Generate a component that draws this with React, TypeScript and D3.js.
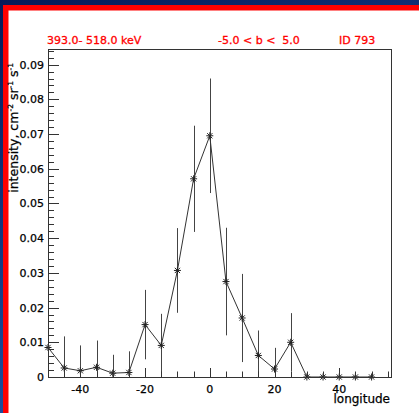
import React from "react";
import * as d3 from "d3";

const longitudes = [-50, -45, -40, -35, -30, -25, -20, -15, -10, -5, 0, 5, 10, 15, 20, 25, 30, 35, 40, 45, 50];
const intensity = [0.0085, 0.0026, 0.0018, 0.0028, 0.0011, 0.0013, 0.0151, 0.0091, 0.0307, 0.0571, 0.0695, 0.0275, 0.0170, 0.0062, 0.0023, 0.0100, 0, 0, 0, 0, 0];
const errors = [0.0095, 0.0091, 0.0073, 0.0077, 0.0053, 0.0061, 0.0100, 0.0091, 0.0122, 0.0153, 0.0165, 0.0155, 0.0127, 0.0072, 0.0061, 0.0084, 0, 0, 0, 0, 0];
const yTicks = [0, 0.01, 0.02, 0.03, 0.04, 0.05, 0.06, 0.07, 0.08, 0.09];
const xTicks = [-40, -20, 0, 20, 40];
const titleLeft = "393.0- 518.0 keV";
const titleMid = "-5.0 < b <\u00a0 5.0";
const titleRight = "ID 793";

const W = 419, H = 413;
const PL = 48, PR = 391, PT = 49, PB = 377;
const FONT = "DejaVu Sans, Liberation Sans, sans-serif";

export default function App() {
  const x = d3.scaleLinear().domain([-50, 56]).range([PL, PR]);
  const y = d3.scaleLinear().domain([0, 0.0945]).range([PB, PT]);
  const yMinor = d3.range(0, 0.0945, 0.002);
  const xMinor = d3.range(-50, 56, 5);
  const line = d3.line<number>().x((_, i) => x(longitudes[i])).y((v) => y(v));
  const s = 3.5;
  return (
    <svg width={W} height={H} style={{ position: "absolute", left: 0, top: 0 }} xmlns="http://www.w3.org/2000/svg">
      <defs>
        <linearGradient id="bg" x1="0" y1="0" x2="0.4" y2="1">
          <stop offset="0" stopColor="#061a58" />
          <stop offset="1" stopColor="#1f55a8" />
        </linearGradient>
      </defs>
      <rect x={0} y={0} width={W} height={H} fill="url(#bg)" />
      <rect x={3} y={5} width={W} height={H} fill="#ff0000" />
      <rect x={8.5} y={10.5} width={W} height={H} fill="#ffffff" />

      <g fill="#ff0000" stroke="#ff0000" strokeWidth={0.3} fontFamily={FONT} fontSize={11}>
        <text x={47} y={44}>{titleLeft}</text>
        <text x={218} y={44}>{titleMid}</text>
        <text x={339} y={44}>{titleRight}</text>
      </g>

      {/* error bars */}
      <g stroke="#444" strokeWidth={1}>
        {longitudes.map((lon, i) =>
          errors[i] > 0 ? (
            <line key={i} x1={Math.round(x(lon)) + 0.5} x2={Math.round(x(lon)) + 0.5}
              y1={y(Math.max(0, intensity[i] - errors[i]))} y2={y(intensity[i] + errors[i])} />
          ) : null
        )}
      </g>
      <path d={line(intensity) || ""} fill="none" stroke="#333" strokeWidth={1} />
      <g stroke="#222" strokeWidth={1}>
        {longitudes.map((lon, i) => {
          const cx = x(lon), cy = y(intensity[i]);
          return (
            <g key={i}>
              <line x1={cx - s} x2={cx + s} y1={cy} y2={cy} />
              <line x1={cx} x2={cx} y1={cy - s} y2={cy + s} />
              <line x1={cx - s * 0.75} x2={cx + s * 0.75} y1={cy - s * 0.75} y2={cy + s * 0.75} />
              <line x1={cx - s * 0.75} x2={cx + s * 0.75} y1={cy + s * 0.75} y2={cy - s * 0.75} />
            </g>
          );
        })}
      </g>

      {/* frame */}
      <rect x={PL + 0.5} y={PT + 0.5} width={PR - PL} height={PB - PT} fill="none" stroke="#333" strokeWidth={1} />

      {/* ticks */}
      <g stroke="#333" strokeWidth={1}>
        {yMinor.map((v, i) => (
          <line key={"ym" + i} x1={PL} x2={PL + 6} y1={Math.round(y(v)) + 0.5} y2={Math.round(y(v)) + 0.5} />
        ))}
        {yTicks.map((v, i) => (
          <line key={"yM" + i} x1={PL} x2={PL + 11} y1={Math.round(y(v)) + 0.5} y2={Math.round(y(v)) + 0.5} />
        ))}
        {xMinor.map((v, i) => (
          <line key={"xm" + i} x1={Math.round(x(v)) + 0.5} x2={Math.round(x(v)) + 0.5} y1={PB} y2={PB - 5.5} />
        ))}
        {xTicks.map((v, i) => (
          <line key={"xM" + i} x1={Math.round(x(v)) + 0.5} x2={Math.round(x(v)) + 0.5} y1={PB} y2={PB - 9} />
        ))}
      </g>

      <g fill="#000" stroke="#000" strokeWidth={0.25} fontFamily={FONT} fontSize={11}>
        {yTicks.map((v, i) => (
          <text key={i} x={44} y={y(v)} dy="0.36em" textAnchor="end">{v === 0 ? "0" : d3.format(".2f")(v)}</text>
        ))}
        {xTicks.map((v, i) => (
          <text key={i} x={x(v)} y={392.5} textAnchor="middle">{v}</text>
        ))}
        <text x={390} y={403} textAnchor="end" fontSize={12}>longitude</text>
        <text transform="translate(17.5,63) rotate(-90)" textAnchor="end" fontSize={12.5}>
          intensity, cm<tspan fontSize={7.5} dy={-5}>-2</tspan>
          <tspan dy={5}> sr</tspan><tspan fontSize={7.5} dy={-5}>-1</tspan>
          <tspan dy={5}> s</tspan><tspan fontSize={7.5} dy={-5}>-1</tspan>
        </text>
      </g>
    </svg>
  );
}
